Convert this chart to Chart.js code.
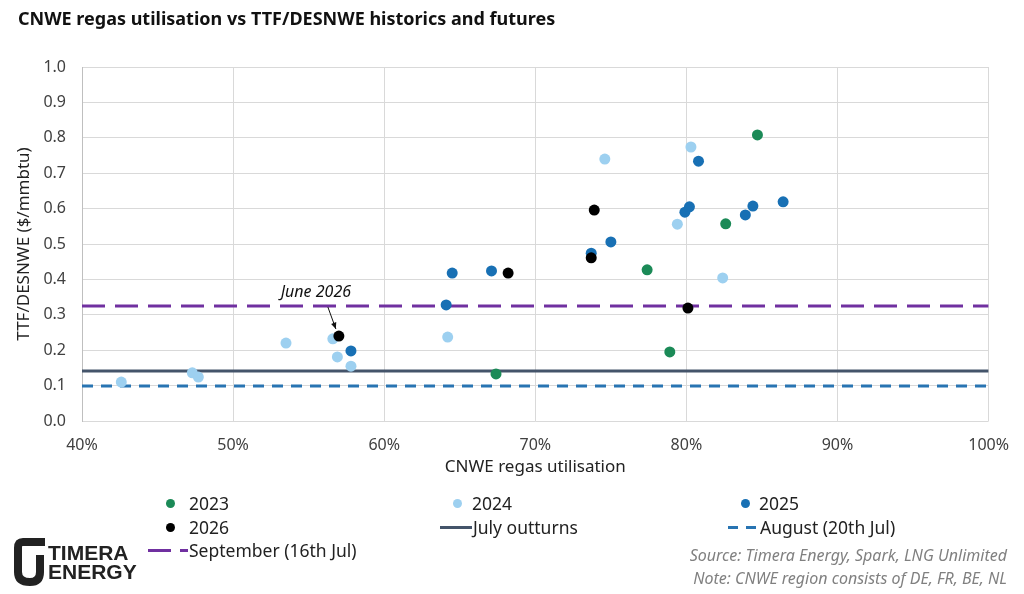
<!DOCTYPE html>
<html>
<head>
<meta charset="utf-8">
<script src="https://cdn.jsdelivr.net/npm/chart.js@4.4.1/dist/chart.umd.min.js"></script>
<style>
  html, body { margin: 0; padding: 0; background: #fff; }
  body { width: 1024px; height: 594px; position: relative; overflow: hidden; font-family: "Noto Sans", sans-serif; }
  #wrap { position: absolute; left: 0; top: 0; width: 1024px; height: 594px; }
  .title { position: absolute; left: 18px; top: 6px; font-weight: bold; font-size: 18px; color: #111; white-space: nowrap; }
  .leg { position: absolute; font-size: 17.5px; color: #222; white-space: nowrap; line-height: 20px; }
  .dot { position: absolute; width: 9px; height: 9px; border-radius: 50%; }
  .ln { position: absolute; height: 3px; }
  .src { position: absolute; right: 17px; font-size: 16px; font-style: italic; color: #808080; white-space: nowrap; line-height: 20px; }
  .logo { position: absolute; left: 10px; top: 536px; }
  .logotxt { position: absolute; left: 48px; font-family: "Liberation Sans Narrow", "Liberation Sans", sans-serif; font-weight: bold; font-size: 21px; color: #222; line-height: 20px; }
</style>
</head>
<body>
<div id="wrap"><canvas id="chart" width="1024" height="594"></canvas></div>
<div class="title">CNWE regas utilisation vs TTF/DESNWE historics and futures</div>

<!-- legend -->
<div class="dot" style="left:166px;top:499px;background:#1b8a57"></div>
<div class="leg" style="left:189px;top:493px">2023</div>
<div class="dot" style="left:453px;top:499px;background:#9dd0f0"></div>
<div class="leg" style="left:472px;top:493px">2024</div>
<div class="dot" style="left:741px;top:499px;background:#1870b4"></div>
<div class="leg" style="left:759px;top:493px">2025</div>
<div class="dot" style="left:166px;top:523px;background:#000"></div>
<div class="leg" style="left:189px;top:517px">2026</div>
<div class="ln" style="left:440px;top:526px;width:32px;background:#44546a"></div>
<div class="leg" style="left:473px;top:517px">July outturns</div>
<div class="ln" style="left:728px;top:526px;width:10px;background:#2874b2"></div>
<div class="ln" style="left:746px;top:526px;width:10px;background:#2874b2"></div>
<div class="leg" style="left:760px;top:517px">August (20th Jul)</div>
<div class="ln" style="left:148px;top:549px;width:23px;background:#7030a0"></div>
<div class="ln" style="left:180px;top:549px;width:8px;background:#7030a0"></div>
<div class="leg" style="left:189px;top:540px">September (16th Jul)</div>

<!-- logo -->
<svg class="logo" width="40" height="52" viewBox="0 0 40 52">
  <path d="M35 6 H13 Q8 6 8 12 V36 Q8 46 20 46 Q30 46 30 36 V19" fill="none" stroke="#222" stroke-width="8" stroke-linejoin="round"/>
</svg>
<div class="logotxt" style="top:543px">TIMERA</div>
<div class="logotxt" style="top:562px">ENERGY</div>

<div class="src" style="top:545px">Source: Timera Energy, Spark, LNG Unlimited</div>
<div class="src" style="top:568px">Note: CNWE region consists of DE, FR, BE, NL</div>

<script>
// x = regas utilisation (%), y = TTF/DESNWE spread ($/mmbtu)
const util2023 = [67.4, 77.4, 78.9, 82.6, 84.7];
const spread2023 = [0.133, 0.427, 0.195, 0.557, 0.808];

const util2024 = [42.6, 47.3, 47.7, 53.5, 56.6, 56.9, 57.8, 64.2, 74.6, 79.4, 80.3, 82.4];
const spread2024 = [0.110, 0.136, 0.124, 0.220, 0.232, 0.181, 0.155, 0.237, 0.740, 0.556, 0.774, 0.404];

const util2025 = [57.8, 64.1, 64.5, 67.1, 73.7, 75.0, 79.9, 80.2, 80.8, 83.9, 84.4, 86.4];
const spread2025 = [0.198, 0.328, 0.418, 0.424, 0.474, 0.506, 0.590, 0.605, 0.734, 0.582, 0.607, 0.619];

const util2026 = [57.0, 68.2, 73.7, 73.9, 80.1];
const spread2026 = [0.240, 0.418, 0.461, 0.596, 0.319];

// reference levels
const julyOutturn = 0.141;
const augustFwd = 0.099;
const septemberFwd = 0.325;
const xRange = [40, 100];

const xTicks = [40, 50, 60, 70, 80, 90, 100];
const yTicks = [0, 0.1, 0.2, 0.3, 0.4, 0.5, 0.6, 0.7, 0.8, 0.9, 1.0];

// annotated point: June 2026
const annotIndex = 0;

const pts = (xs, ys) => xs.map((x, i) => ({ x: x, y: ys[i] }));
const hline = v => xRange.map(x => ({ x: x, y: v }));

const annotPlugin = {
  id: 'juneNote',
  afterDatasetsDraw(chart) {
    const { ctx, scales } = chart;
    const px = scales.x.getPixelForValue(util2026[annotIndex]);
    const py = scales.y.getPixelForValue(spread2026[annotIndex]);
    ctx.save();
    ctx.font = 'italic 16px "Noto Sans"';
    ctx.fillStyle = '#111';
    ctx.textAlign = 'center';
    ctx.textBaseline = 'middle';
    ctx.fillText('June 2026', px - 23, py - 44);
    // arrow
    const x0 = px - 11, y0 = py - 29, x1 = px - 3, y1 = py - 7;
    ctx.strokeStyle = '#111';
    ctx.lineWidth = 1;
    ctx.beginPath();
    ctx.moveTo(x0, y0);
    ctx.lineTo(x1, y1);
    ctx.stroke();
    const ang = Math.atan2(y1 - y0, x1 - x0);
    ctx.beginPath();
    ctx.moveTo(x1, y1);
    ctx.lineTo(x1 - 7 * Math.cos(ang - 0.4), y1 - 7 * Math.sin(ang - 0.4));
    ctx.lineTo(x1 - 7 * Math.cos(ang + 0.4), y1 - 7 * Math.sin(ang + 0.4));
    ctx.closePath();
    ctx.fillStyle = '#111';
    ctx.fill();
    ctx.restore();
  }
};

const ctx = document.getElementById('chart');
new Chart(ctx.getContext('2d'), {
  type: 'scatter',
  data: {
    datasets: [
      { label: '2026', data: pts(util2026, spread2026), backgroundColor: '#000', pointRadius: 5.5, borderWidth: 0 },
      { label: '2025', data: pts(util2025, spread2025), backgroundColor: '#1870b4', pointRadius: 5.5, borderWidth: 0 },
      { label: '2024', data: pts(util2024, spread2024), backgroundColor: '#9dd0f0', pointRadius: 5.5, borderWidth: 0 },
      { label: '2023', data: pts(util2023, spread2023), backgroundColor: '#1b8a57', pointRadius: 5.5, borderWidth: 0 },
      { label: 'September (16th Jul)', type: 'line', data: hline(septemberFwd), borderColor: '#7030a0', borderWidth: 3, borderDash: [23, 10], pointRadius: 0, fill: false },
      { label: 'July outturns', type: 'line', data: hline(julyOutturn), borderColor: '#44546a', borderWidth: 3, pointRadius: 0, fill: false },
      { label: 'August (20th Jul)', type: 'line', data: hline(augustFwd), borderColor: '#2874b2', borderWidth: 3, borderDash: [11, 8], pointRadius: 0, fill: false }
    ]
  },
  options: {
    responsive: false,
    animation: false,
    layout: { padding: { left: 0, right: 27, top: 67, bottom: 113 } },
    scales: {
      x: {
        type: 'linear',
        min: xRange[0],
        max: xRange[1],
        afterFit: scale => { scale.height = 60; },
        afterBuildTicks: scale => { scale.ticks = xTicks.map(v => ({ value: v })); },
        ticks: {
          padding: 15,
          color: '#404040',
          font: { family: 'Noto Sans', size: 16 },
          callback: v => v + '%'
        },
        grid: { color: '#d9d9d9', drawTicks: false },
        border: { display: false },
        title: {
          display: true,
          text: 'CNWE regas utilisation',
          color: '#222',
          font: { family: 'Noto Sans', size: 17 },
          padding: { top: 0, bottom: 4 }
        }
      },
      y: {
        min: 0,
        max: 1,
        afterFit: scale => { scale.width = 82; },
        afterBuildTicks: scale => { scale.ticks = yTicks.map(v => ({ value: v })); },
        ticks: {
          padding: 16,
          color: '#404040',
          font: { family: 'Noto Sans', size: 16 },
          callback: v => v.toFixed(1)
        },
        grid: { color: '#d9d9d9', drawTicks: false },
        border: { display: true, color: '#bfbfbf' },
        title: {
          display: true,
          text: 'TTF/DESNWE ($/mmbtu)',
          color: '#222',
          font: { family: 'Noto Sans', size: 17 },
          padding: { top: 14, bottom: 0 }
        }
      }
    },
    plugins: {
      legend: { display: false },
      tooltip: { enabled: false }
    }
  },
  plugins: [annotPlugin]
});
</script>
</body>
</html>
